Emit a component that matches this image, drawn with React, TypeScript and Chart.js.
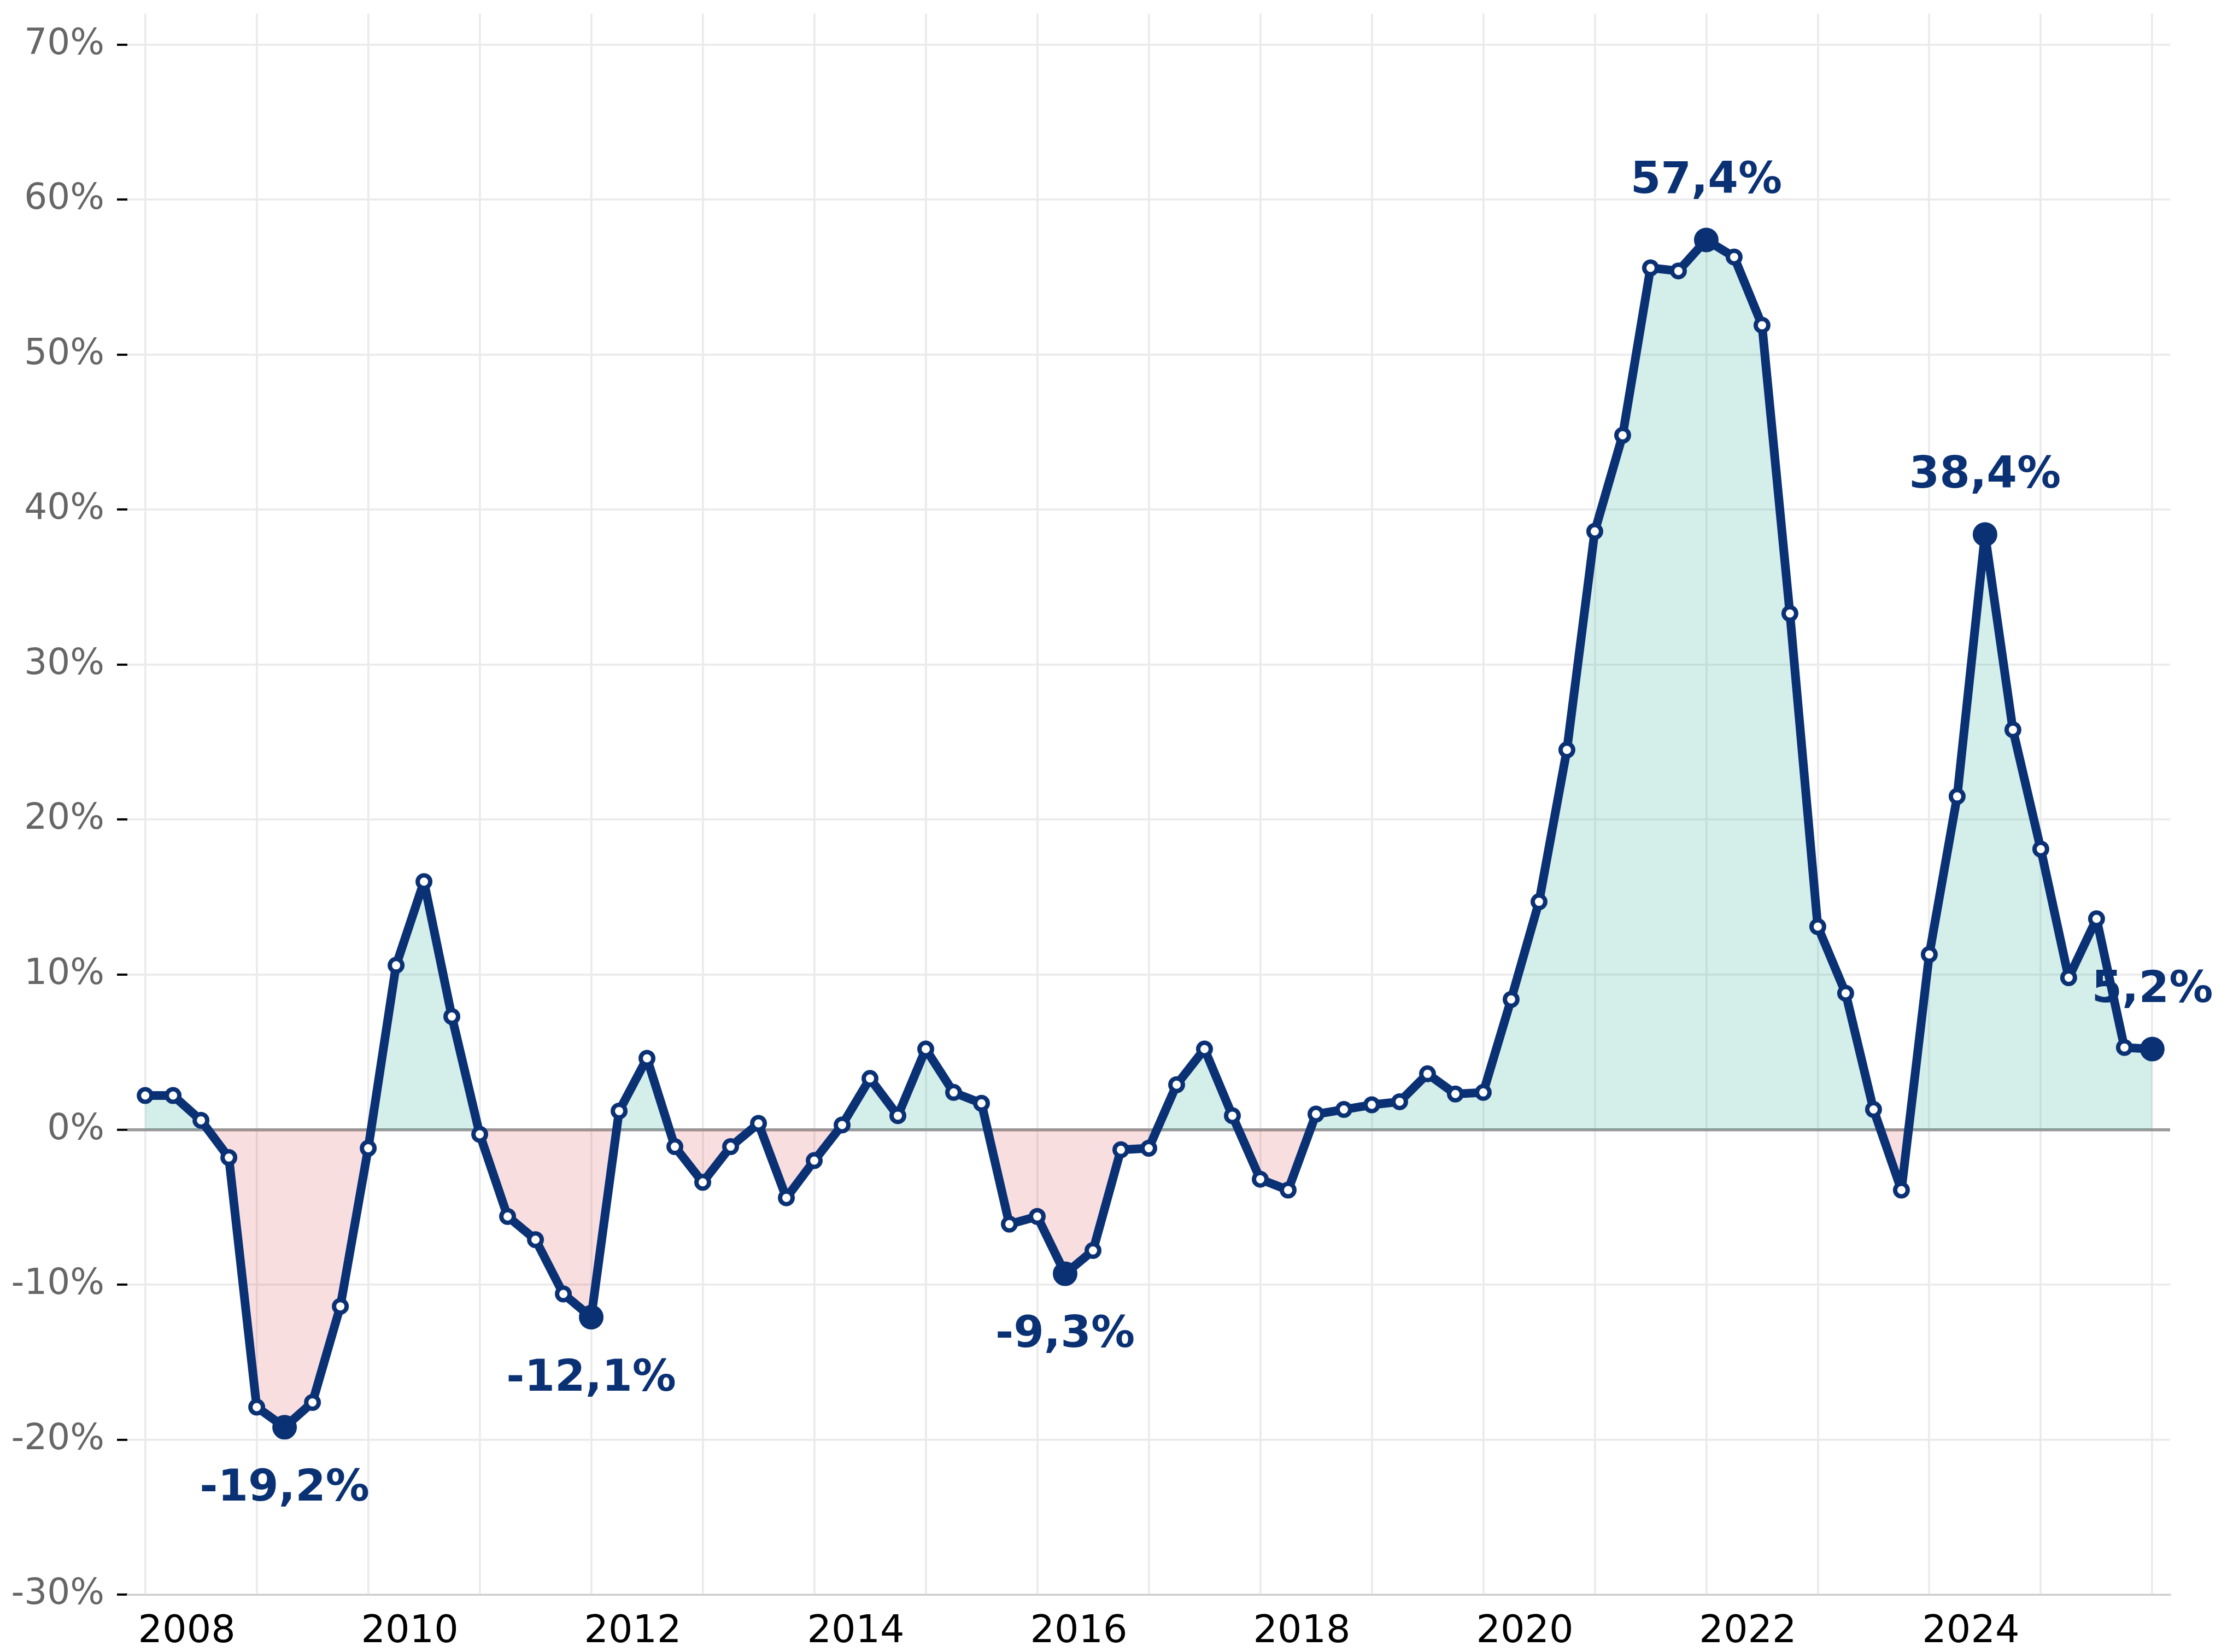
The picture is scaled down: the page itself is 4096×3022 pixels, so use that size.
import React, { useEffect, useRef } from 'react';
import { Chart, registerables } from 'chart.js';

Chart.register(...registerables);

// ---- data ----
const START_YEAR = 2008;
// quarterly growth rate (%), 2008 Q1 ... 2026 Q1
const growth = [
  2.2, 2.2, 0.6, -1.8,
  -17.9, -19.2, -17.6, -11.4,
  -1.2, 10.6, 16.0, 7.3,
  -0.3, -5.6, -7.1, -10.6,
  -12.1, 1.2, 4.6, -1.1,
  -3.4, -1.1, 0.4, -4.4,
  -2.0, 0.3, 3.3, 0.9,
  5.2, 2.4, 1.7, -6.1,
  -5.6, -9.3, -7.8, -1.3,
  -1.2, 2.9, 5.2, 0.9,
  -3.2, -3.9, 1.0, 1.3,
  1.6, 1.8, 3.6, 2.3,
  2.4, 8.4, 14.7, 24.5,
  38.6, 44.8, 55.6, 55.4,
  57.4, 56.3, 51.9, 33.3,
  13.1, 8.8, 1.3, -3.9,
  11.3, 21.5, 38.4, 25.8,
  18.1, 9.8, 13.6, 5.3,
  5.2,
];
// quarter positions (decimal years) for each value
const periods = growth.map((_, i) => START_YEAR + Math.floor(i / 4) + (i % 4) / 4);
// indices of highlighted / labelled points
const annotated = [5, 16, 33, 56, 66, 72];
const xGridYears = [2008, 2009, 2010, 2011, 2012, 2013, 2014, 2015, 2016, 2017, 2018, 2019, 2020, 2021, 2022, 2023, 2024, 2025, 2026];
const xLabelYears = [2008, 2010, 2012, 2014, 2016, 2018, 2020, 2022, 2024];
const yTicks = [-30, -20, -10, 0, 10, 20, 30, 40, 50, 60, 70];

// ---- style ----
const NAVY = '#0b3175';
const GREEN = 'rgba(42,170,150,0.2)';
const PINK = 'rgba(220,60,70,0.17)';
const FONT = '"DejaVu Sans", sans-serif';
const W = 4096;
const H = 3022;

const fmt = (v: number) => v.toFixed(1).replace('.', ',') + '%';

const labelPlugin = {
  id: 'peakLabels',
  afterDatasetsDraw(chart: any) {
    const ctx = chart.ctx;
    const meta = chart.getDatasetMeta(0);
    const size = 80;
    ctx.save();
    ctx.font = `bold ${size}px ${FONT}`;
    ctx.fillStyle = NAVY;
    ctx.textAlign = 'center';
    ctx.textBaseline = 'alphabetic';
    annotated.forEach((i) => {
      const p = meta.data[i];
      const v = growth[i];
      const capCenter = v >= 0 ? p.y - 115 : p.y + 105;
      ctx.fillText(fmt(v), p.x, capCenter + 0.3645 * size);
    });
    ctx.restore();
  },
};

export default function App() {
  const ref = useRef<HTMLCanvasElement | null>(null);

  useEffect(() => {
    document.body.style.margin = '0';
    const canvas = ref.current;
    if (!canvas) return;
    const isHL = (i: number) => annotated.includes(i);
    const chart = new Chart(canvas, {
      type: 'line',
      data: {
        datasets: [
          {
            data: growth.map((v, i) => ({ x: periods[i], y: v })),
            borderColor: NAVY,
            borderWidth: 16,
            borderJoinStyle: 'round',
            borderCapStyle: 'round',
            tension: 0,
            fill: { target: { value: 0 }, above: GREEN, below: PINK },
            pointRadius: (c: any) => (isHL(c.dataIndex) ? 20 : 11.5),
            pointBorderWidth: (c: any) => (isHL(c.dataIndex) ? 5 : 8),
            pointBackgroundColor: (c: any) => (isHL(c.dataIndex) ? NAVY : '#ffffff'),
            pointBorderColor: NAVY,
            pointHoverRadius: 0,
          } as any,
        ],
      },
      options: {
        responsive: false,
        maintainAspectRatio: false,
        animation: false,
        devicePixelRatio: 1,
        events: [],
        layout: { padding: { top: 19, right: 126, left: 0, bottom: 0 } },
        plugins: { legend: { display: false }, tooltip: { enabled: false } },
        scales: {
          x: {
            type: 'linear',
            min: 2007.84,
            max: 2026.16,
            afterBuildTicks: (s: any) => {
              s.ticks = xGridYears.map((v) => ({ value: v }));
            },
            afterFit: (s: any) => {
              s.height = 105;
              s.paddingLeft = 0;
              s.paddingRight = 0;
            },
            grid: { color: '#ebebeb', lineWidth: 3.8, drawTicks: false },
            border: { display: true, color: '#cccccc', width: 3 },
            ticks: {
              autoSkip: false,
              maxRotation: 0,
              padding: 27,
              labelOffset: 76,
              color: '#000000',
              font: { family: FONT, size: 70 },
              callback: (v: any) => (xLabelYears.includes(Number(v)) ? String(v) : ''),
            },
          },
          y: {
            min: -30,
            max: 72,
            afterBuildTicks: (s: any) => {
              s.ticks = yTicks.map((v) => ({ value: v }));
            },
            afterFit: (s: any) => {
              s.width = 233;
              s.paddingTop = 0;
              s.paddingBottom = 0;
            },
            grid: {
              color: (c: any) => (c.tick && c.tick.value === 0 ? '#9a9a9a' : '#ebebeb'),
              lineWidth: (c: any) => (c.tick && c.tick.value === 0 ? 5.5 : 3.8),
              drawTicks: true,
              tickLength: 19,
              tickColor: '#000000',
              tickWidth: 4,
            },
            border: { display: false },
            ticks: {
              autoSkip: false,
              padding: 23,
              color: '#666666',
              font: { family: FONT, size: 66 },
              callback: (v: any) => `${v}%`,
            },
          },
        },
      } as any,
      plugins: [labelPlugin],
    });
    return () => chart.destroy();
  }, []);

  return (
    <div style={{ width: W, height: H, background: '#ffffff' }}>
      <canvas ref={ref} width={W} height={H} style={{ display: 'block', width: W, height: H }} />
    </div>
  );
}
